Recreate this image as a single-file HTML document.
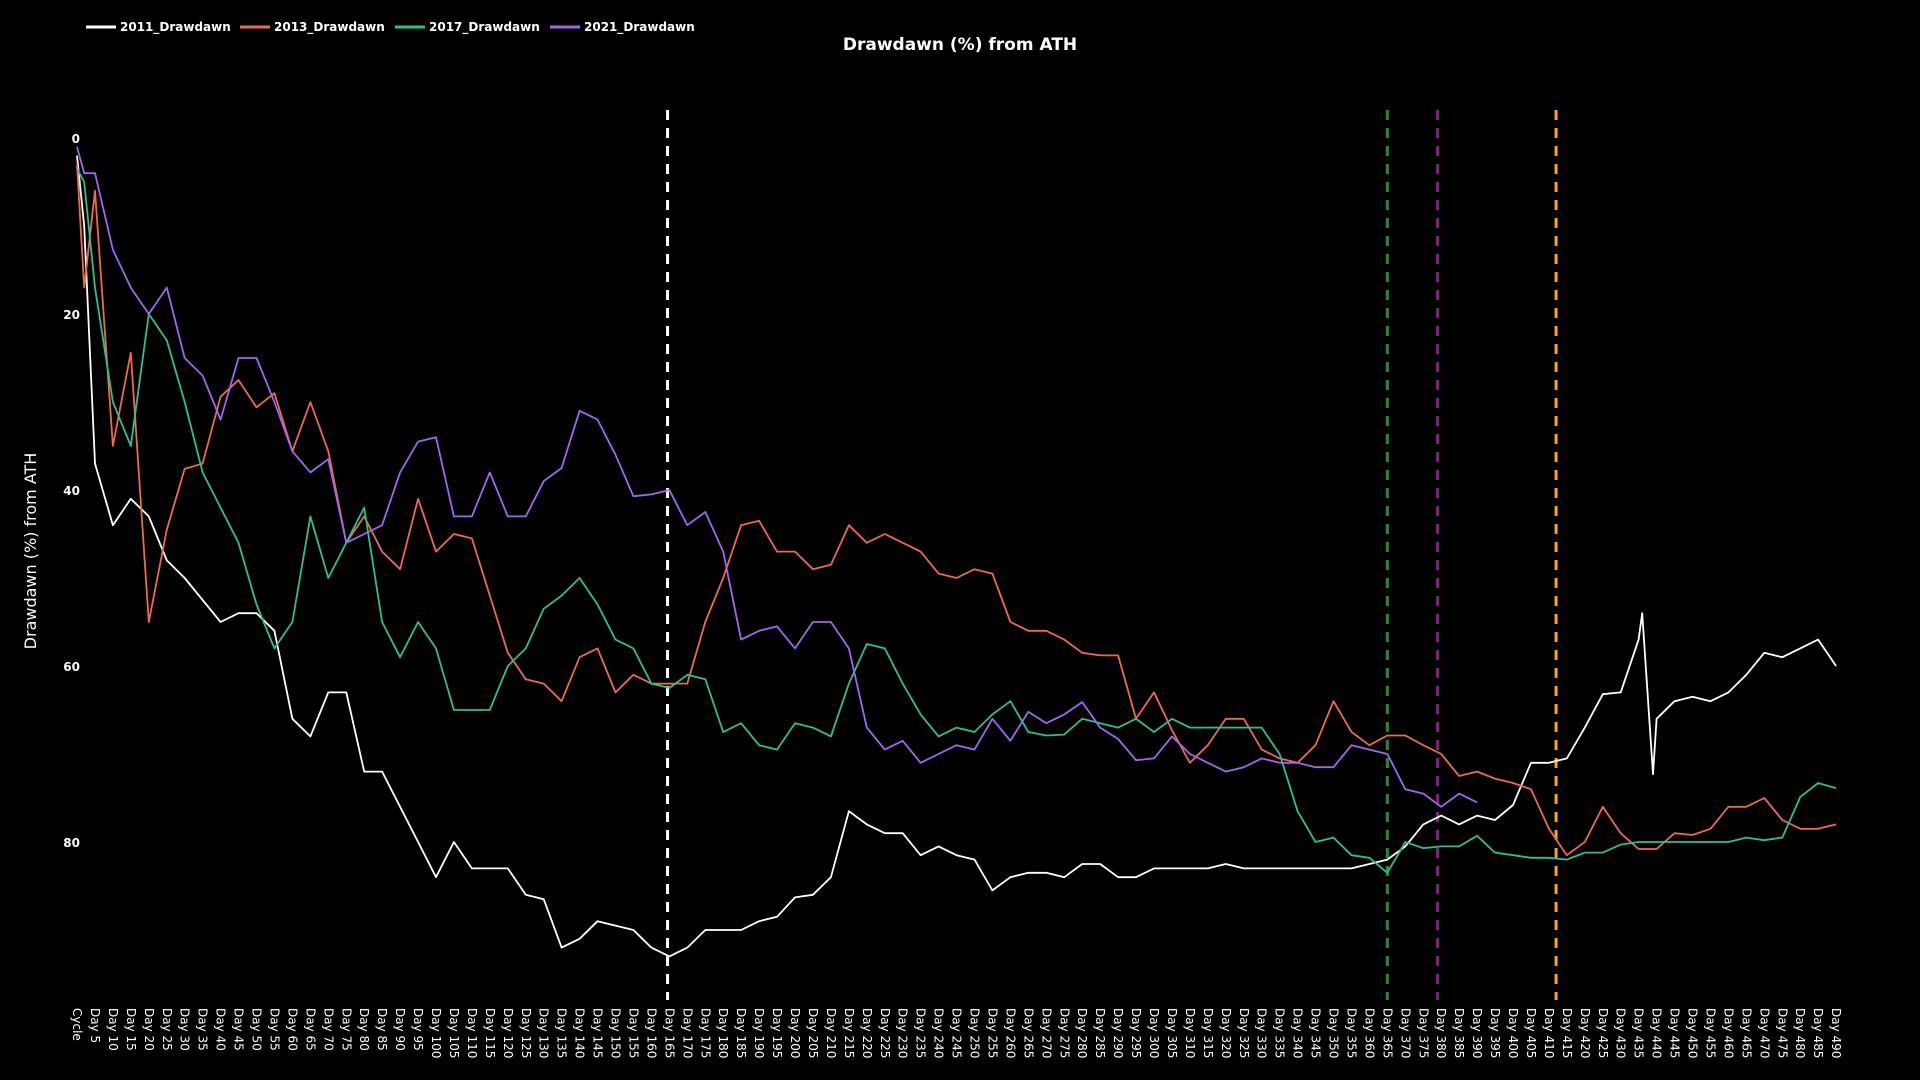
<!DOCTYPE html>
<html><head><meta charset="utf-8"><style>
html,body{margin:0;padding:0;background:#000;width:1920px;height:1080px;overflow:hidden}
svg{display:block}
text{font-family:"DejaVu Sans","Liberation Sans",sans-serif;fill:#fff}
</style></head><body>
<svg id="chart" width="1920" height="1080" viewBox="0 0 1920 1080" xmlns="http://www.w3.org/2000/svg">
<rect x="0" y="0" width="1920" height="1080" fill="#000"/>
<text x="960" y="50" text-anchor="middle" font-size="17" font-weight="bold">Drawdawn (%) from ATH</text>
<text transform="translate(36,551) rotate(-90)" text-anchor="middle" font-size="16">Drawdawn (%) from ATH</text>
<g id="legend"></g>
<g id="yticks"></g>
<g id="xticks"></g>
<g id="vlines"></g>
<g id="series"></g>
</svg>
<script>
const days = [0,2,5,10,15,20,25,30,35,40,45,50,55,60,65,70,75,80,85,90,95,100,105,110,115,120,125,130,135,140,145,150,155,160,165,170,175,180,185,190,195,200,205,210,215,220,225,230,235,240,245,250,255,260,265,270,275,280,285,290,295,300,305,310,315,320,325,330,335,340,345,350,355,360,365,370,375,380,385,390,395,400,405,410,415,420,425,430,435,436,439,440,445,450,455,460,465,470,475,480,485,490];
const s2011 = [2,10,37,44,41,43,48,50,52.5,55,54,54,56,66,68,63,63,72,72,76,80,84,80,83,83,83,86,86.5,92,91,89,89.5,90,92,93,92,90,90,90,89,88.5,86.3,86,84,76.5,78,79,79,81.5,80.5,81.5,82,85.5,84,83.5,83.5,84,82.5,82.5,84,84,83,83,83,83,82.5,83,83,83,83,83,83,83,82.5,82,80.5,78,77,78,77,77.5,75.8,71,71,70.5,67,63.2,63,57,54,72.3,66,64,63.5,64,63,61,58.5,59,58,57,60];
const s2013 = [3,17,6,35,24.4,55,44.5,37.6,37,29.4,27.5,30.6,29,35.6,30,35.6,46,43,47,49,41,47,45,45.5,52,58.5,61.5,62,64,59,58,63,61,62,62,62,55,50,44,43.5,47,47,49,48.5,44,46,45,46,47,49.5,50,49,49.5,55,56,56,57,58.5,58.8,58.8,66,63,67.3,71,69,66,66,69.5,70.5,71,69,64,67.5,69,67.9,67.9,69,70,72.5,72,72.8,73.3,74,78.5,81.5,80,76,79,80.8,80.8,80.8,80.8,79,79.2,78.5,76,76,75,77.5,78.5,78.5,78];
const s2017 = [3.5,5,17,30,35,20,23,30,38,42,46,53,58,55,43,50,46,42,55,59,55,58,65,65,65,60,58,53.5,52,50,53,57,58,62,62.5,61,61.5,67.5,66.5,69,69.5,66.5,67,68,62,57.5,58,62,65.5,68,67,67.5,65.5,64,67.5,67.9,67.8,66,66.5,67,66,67.5,66,67,67,67,67,67,70,76.5,80,79.5,81.5,81.8,83.5,80,80.7,80.5,80.5,79.3,81.2,81.5,81.8,81.8,82,81.2,81.2,80.3,80,80,80,80,80,80,80,80,79.5,79.8,79.5,74.9,73.3,73.9,73];
const s2021 = [1,4,4,12.7,17,20,17,25,27,32,25,25,30,35.6,38,36.5,46,45,44,38,34.5,34,43,43,38,43,43,39,37.5,31,32,36,40.7,40.5,40,44,42.5,47,57,56,55.5,58,55,55,58,67,69.5,68.5,71,70,69,69.5,66,68.5,65.2,66.5,65.5,64.1,67,68.3,70.7,70.5,68,70,71,72,71.5,70.5,71,71,71.5,71.5,69,69.5,70,74,74.5,76,74.5,75.5,null,null,null,null,null,null,null,null,null,null,null,null,null,null,null,null,null,null,null,null,null,null];
const seriesNames = ["2011_Drawdawn","2013_Drawdawn","2017_Drawdawn","2021_Drawdawn"];
const seriesColors = ["#ffffff","#ef6a4c","#2cc08f","#a066f0"];
const yTicks = [0,20,40,60,80];
const refDays = [164.5,365,379,412];
const refColors = ["#ffffff","#2a8a2a","#8b1a8b","#f5a623"];
const lastDay = 490;

const NS="http://www.w3.org/2000/svg";
const X = d => 77 + d*3.59;
const Y = v => 138 + v*8.8;

const yt=document.getElementById('yticks');
yTicks.forEach(v=>{
  const t=document.createElementNS(NS,'text');
  t.setAttribute('x',80);t.setAttribute('y',Y(v)+5);
  t.setAttribute('text-anchor','end');t.setAttribute('font-size','12');t.setAttribute('font-weight','bold');
  t.textContent=v;
  
  
  yt.appendChild(t);
});

const xt=document.getElementById('xticks');
for(let d=0; d<=lastDay; d+=5){
  const t=document.createElementNS(NS,'text');
  t.setAttribute('transform',`translate(${X(d)-4},1008) rotate(90)`);
  t.setAttribute('font-size','12');
  t.textContent = d===0 ? 'Cycle' : 'Day '+d;
  
  
  xt.appendChild(t);
}

const vl=document.getElementById('vlines');
refDays.forEach((d,i)=>{
  const l=document.createElementNS(NS,'line');
  l.setAttribute('x1',X(d));l.setAttribute('x2',X(d));
  l.setAttribute('y1',110);l.setAttribute('y2',1000);
  l.setAttribute('stroke',refColors[i]);l.setAttribute('stroke-width','3');
  l.setAttribute('stroke-dasharray','10,8');
  
  
  vl.appendChild(l);
});

const sg=document.getElementById('series');
[s2011,s2013,s2017,s2021].forEach((arr,i)=>{
  let pts=[];
  arr.forEach((v,j)=>{ if(v!==null) pts.push(X(days[j]).toFixed(1)+','+Y(v).toFixed(1)); });
  const p=document.createElementNS(NS,'polyline');
  p.setAttribute('points',pts.join(' '));
  p.setAttribute('fill','none');p.setAttribute('stroke',seriesColors[i]);
  p.setAttribute('stroke-width','1.8');p.setAttribute('stroke-linejoin','round');
  
  
  sg.appendChild(p);
});

const lg=document.getElementById('legend');
const lx=[86,240,395,550];
seriesNames.forEach((n,i)=>{
  const g=document.createElementNS(NS,'g');
  
  
  const l=document.createElementNS(NS,'line');
  l.setAttribute('x1',lx[i]);l.setAttribute('x2',lx[i]+30);
  l.setAttribute('y1',27);l.setAttribute('y2',27);
  l.setAttribute('stroke',seriesColors[i]);l.setAttribute('stroke-width','3');
  const t=document.createElementNS(NS,'text');
  t.setAttribute('x',lx[i]+34);t.setAttribute('y',31);
  t.setAttribute('font-size','12');t.setAttribute('font-weight','bold');
  t.textContent=n;
  g.appendChild(l);g.appendChild(t);lg.appendChild(g);
});
</script>
</body></html>
